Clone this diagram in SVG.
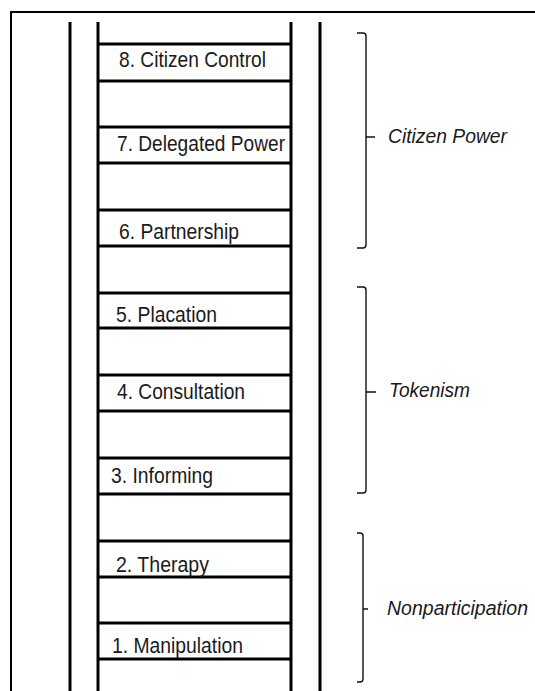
<svg xmlns="http://www.w3.org/2000/svg" width="535" height="691" viewBox="0 0 535 691">
  <style>
    .frame { fill: none; stroke: #000; stroke-width: 2; }
    .rail { stroke: #000; stroke-width: 3; }
    .rung { stroke: #000; stroke-width: 3; }
    .brace { fill: none; stroke: #111; stroke-width: 1.4; }
    .step { font-family: "Liberation Sans", Arial, sans-serif; font-size: 21.5px; fill: #1a1a1a; }
    .group { font-family: "Liberation Sans", Arial, sans-serif; font-size: 20.5px; font-style: italic; fill: #1a1a1a; }
  </style>
  <rect width="535" height="691" fill="#fff"/>
  <path class="frame" d="M11,691 V12 H536"/>

  <!-- ladder rails -->
  <g id="rails">
    <line class="rail" x1="70" y1="22" x2="70" y2="691"/>
    <line class="rail" x1="98" y1="22" x2="98" y2="691"/>
    <line class="rail" x1="291" y1="22" x2="291" y2="691"/>
    <line class="rail" x1="320" y1="22" x2="320" y2="691"/>
  </g>

  <!-- rungs, one pair per step -->
  <g id="step-8">
    <line class="rung" x1="98" y1="44" x2="291" y2="44"/>
    <line class="rung" x1="98" y1="81" x2="291" y2="81"/>
    <text class="step" x="119" y="67" textLength="147" lengthAdjust="spacingAndGlyphs">8. Citizen Control</text>
  </g>
  <g id="step-7">
    <line class="rung" x1="98" y1="127" x2="291" y2="127"/>
    <line class="rung" x1="98" y1="163" x2="291" y2="163"/>
    <text class="step" x="117" y="151" textLength="168" lengthAdjust="spacingAndGlyphs">7. Delegated Power</text>
  </g>
  <g id="step-6">
    <line class="rung" x1="98" y1="210" x2="291" y2="210"/>
    <line class="rung" x1="98" y1="246" x2="291" y2="246"/>
    <text class="step" x="119" y="239" textLength="120" lengthAdjust="spacingAndGlyphs">6. Partnership</text>
  </g>
  <g id="step-5">
    <line class="rung" x1="98" y1="293" x2="291" y2="293"/>
    <line class="rung" x1="98" y1="328" x2="291" y2="328"/>
    <text class="step" x="116" y="322" textLength="101" lengthAdjust="spacingAndGlyphs">5. Placation</text>
  </g>
  <g id="step-4">
    <line class="rung" x1="98" y1="375" x2="291" y2="375"/>
    <line class="rung" x1="98" y1="411" x2="291" y2="411"/>
    <text class="step" x="117" y="399" textLength="128" lengthAdjust="spacingAndGlyphs">4. Consultation</text>
  </g>
  <g id="step-3">
    <line class="rung" x1="98" y1="458" x2="291" y2="458"/>
    <line class="rung" x1="98" y1="494" x2="291" y2="494"/>
    <text class="step" x="111" y="483" textLength="102" lengthAdjust="spacingAndGlyphs">3. Informing</text>
  </g>
  <g id="step-2">
    <line class="rung" x1="98" y1="541" x2="291" y2="541"/>
    <line class="rung" x1="98" y1="577" x2="291" y2="577"/>
    <text class="step" x="116" y="572" textLength="93" lengthAdjust="spacingAndGlyphs">2. Therapy</text>
  </g>
  <g id="step-1">
    <line class="rung" x1="98" y1="623" x2="291" y2="623"/>
    <line class="rung" x1="98" y1="659" x2="291" y2="659"/>
    <text class="step" x="112" y="653" textLength="131" lengthAdjust="spacingAndGlyphs">1. Manipulation</text>
  </g>

  <!-- grouping braces -->
  <g id="citizen-power">
    <path class="brace" d="M357,33 H363 Q366,33 366,36 V245 Q366,248 363,248 H357 M366,137 H375"/>
    <text class="group" x="388" y="143" textLength="119" lengthAdjust="spacingAndGlyphs">Citizen Power</text>
  </g>
  <g id="tokenism">
    <path class="brace" d="M357,287 H363 Q366,287 366,290 V490 Q366,493 363,493 H357 M366,392 H376"/>
    <text class="group" x="389" y="397" textLength="81" lengthAdjust="spacingAndGlyphs">Tokenism</text>
  </g>
  <g id="nonparticipation">
    <path class="brace" d="M357,533 H360 Q363,533 363,536 V679 Q363,682 360,682 H357 M363,609 H368"/>
    <text class="group" x="387" y="615" textLength="141" lengthAdjust="spacingAndGlyphs">Nonparticipation</text>
  </g>
</svg>
